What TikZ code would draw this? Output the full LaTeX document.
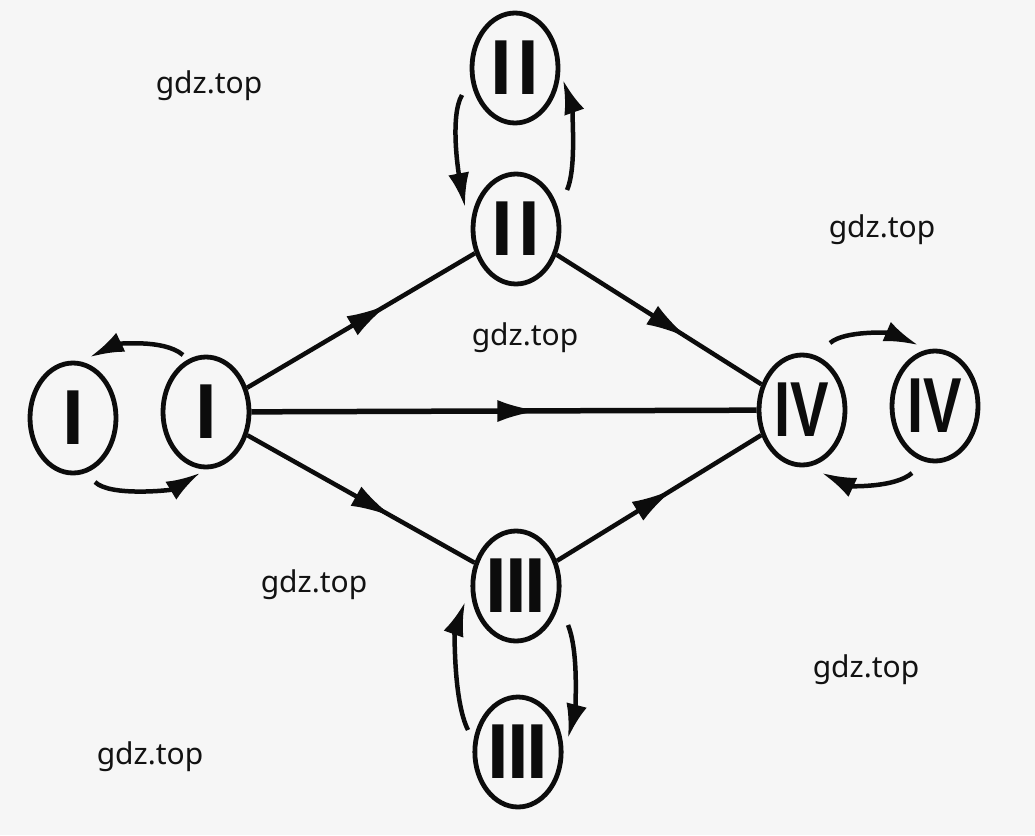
\documentclass[tikz,border=0pt]{standalone}
\usepackage{fontspec}
\usepackage{graphicx}
\usetikzlibrary{shapes.geometric,arrows.meta,decorations.markings,calc}
\newfontfamily\numfont{Liberation Sans}
\newfontfamily\wmfont{Noto Sans}
\definecolor{bg}{RGB}{246,246,246}
\definecolor{ink}{RGB}{12,12,12}
\definecolor{wm}{RGB}{18,18,18}
\begin{document}
\begin{tikzpicture}[x=1pt,y=-1pt,
  st/.style={ellipse, draw=ink, line width=4.8pt, minimum width=86pt, minimum height=110pt, inner sep=0pt, text=ink, font=\numfont\bfseries\fontsize{78}{78}\selectfont},
  edge/.style={draw=ink, color=ink, line width=4.5pt},
  midarrow/.style={postaction={decorate}, decoration={markings, mark=at position #1 with {\arrow{Latex[length=42pt,width=22pt]}}}},
  loopar/.style={draw=ink, color=ink, line width=4.5pt, -{Latex[length=34pt,width=21pt]}},
  wmtext/.style={font=\wmfont\fontsize{30}{30}\selectfont, text=wm, anchor=base, inner sep=0pt}]
\useasboundingbox (0,0) rectangle (1035,835);
\fill[bg] (0,0) rectangle (1035,835);

\node[st] (I1) at (73,418) {I};
\node[st] (I2) at (206,412) {I};
\node[st] (II1) at (515,68) {I\kern6ptI};
\node[st] (II2) at (516,229) {I\kern6ptI};
\node[st] (III1) at (516,586) {I\kern-2ptI\kern-2ptI};
\node[st] (III2) at (518,752) {I\kern-2ptI\kern-2ptI};
\node[st] (IV1) at (802,410) {\scalebox{0.74}[1]{IV}};
\node[st] (IV2) at (935,406) {\scalebox{0.74}[1]{IV}};

\draw[edge, midarrow=0.62] (I2) -- (II2);
\draw[edge, line width=5.5pt, midarrow=0.57] (I2) -- (IV1);
\draw[edge, midarrow=0.64] (I2) -- (III1);
\draw[edge, midarrow=0.64] (II2) -- (IV1);
\draw[edge, midarrow=0.57] (III1) -- (IV1);

\draw[loopar] ($(I2)+(-23,-57)$) .. controls ($(I2)+(-43,-74)$) and ($(I1)+(42,-73)$) .. ($(I1)+(17,-61)$);
\draw[loopar] ($(I1)+(22,64)$) .. controls ($(I1)+(37,79)$) and ($(I2)+(-34,78)$) .. ($(I2)+(-6,61)$);
\draw[loopar] ($(II1)+(-53,27)$) .. controls ($(II1)+(-65,47)$) and ($(II2)+(-58,-59)$) .. ($(II2)+(-51,-22)$);
\draw[loopar] ($(II2)+(51,-39)$) .. controls ($(II2)+(62,-64)$) and ($(II1)+(55,32)$) .. ($(II1)+(48,12)$);
\draw[loopar] ($(III2)+(-50,-22)$) .. controls ($(III2)+(-65,-52)$) and ($(III1)+(-61,44)$) .. ($(III1)+(-51,16)$);
\draw[loopar] ($(III1)+(52,39)$) .. controls ($(III1)+(64,69)$) and ($(III2)+(56,-37)$) .. ($(III2)+(50,-14)$);
\draw[loopar] ($(IV1)+(28,-67)$) .. controls ($(IV1)+(43,-80)$) and ($(IV2)+(-45,-73)$) .. ($(IV2)+(-17,-61)$);
\draw[loopar] ($(IV2)+(-23,67)$) .. controls ($(IV2)+(-40,82)$) and ($(IV1)+(48,76)$) .. ($(IV1)+(20,63)$);

\node[wmtext] (w1) at (209,93) {gdz.top};
\node[wmtext] (w2) at (882,237) {gdz.top};
\node[wmtext] (w3) at (525,345) {gdz.top};
\node[wmtext] (w4) at (314,592) {gdz.top};
\node[wmtext] (w5) at (866,677) {gdz.top};
\node[wmtext] (w6) at (150,764) {gdz.top};
\end{tikzpicture}
\end{document}
